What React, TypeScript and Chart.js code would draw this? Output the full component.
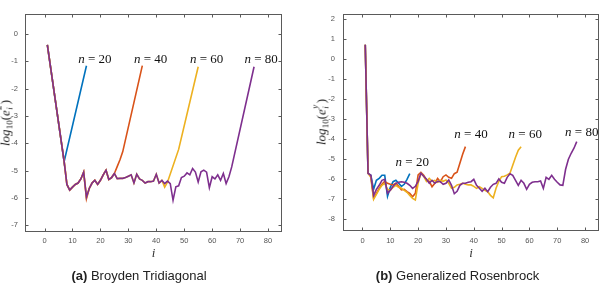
import React, { useEffect, useRef } from 'react';
import { Chart, registerables } from 'chart.js';

Chart.register(...registerables);

// ---------- data ----------
const X_TICKS = [0, 10, 20, 30, 40, 50, 60, 70, 80];
const A_Y_TICKS = [-7, -6, -5, -4, -3, -2, -1, 0];
const B_Y_TICKS = [-8, -7, -6, -5, -4, -3, -2, -1, 0, 1, 2];
const N_VALUES = [20, 40, 60, 80];

// (a) Broyden Tridiagonal  [i, log10 error]
const A_N20 = [[1, -0.4], [7, -4.67], [15, -1.16]];
const A_N40 = [[1, -0.4], [7, -4.65], [8, -5.5], [9, -5.71], [10, -5.6], [11, -5.5], [12, -5.45], [13, -5.3], [14, -5.05], [15, -6.02], [16, -5.65], [17, -5.45], [18, -5.35], [19, -5.5], [20, -5.35], [21, -5.15], [22, -4.98], [23, -5.32], [24, -5.25], [25, -5.1], [26, -4.85], [27, -4.6], [28, -4.3], [35, -1.16]];
const A_N60 = [[1, -0.4], [7, -4.65], [8, -5.5], [9, -5.71], [10, -5.6], [11, -5.5], [12, -5.45], [13, -5.3], [14, -5.05], [15, -5.96], [16, -5.65], [17, -5.45], [18, -5.35], [19, -5.5], [20, -5.35], [21, -5.15], [22, -4.98], [23, -5.32], [24, -5.25], [25, -5.1], [26, -5.29], [27, -5.28], [28, -5.28], [29, -5.25], [30, -5.2], [31, -5.15], [32, -5.45], [33, -5.13], [34, -5.3], [35, -5.35], [36, -5.45], [37, -5.4], [38, -5.4], [39, -5.38], [40, -5.13], [41, -5.45], [42, -5.35], [43, -5.6], [44, -5.42], [48, -4.22], [55, -1.2]];
const A_N80 = [[1, -0.4], [7, -4.65], [8, -5.5], [9, -5.71], [10, -5.6], [11, -5.5], [12, -5.45], [13, -5.3], [14, -5.05], [15, -5.96], [16, -5.65], [17, -5.45], [18, -5.35], [19, -5.5], [20, -5.35], [21, -5.15], [22, -4.98], [23, -5.32], [24, -5.25], [25, -5.1], [26, -5.29], [27, -5.28], [28, -5.28], [29, -5.25], [30, -5.2], [31, -5.15], [32, -5.45], [33, -5.13], [34, -5.3], [35, -5.35], [36, -5.45], [37, -5.4], [38, -5.4], [39, -5.38], [40, -5.13], [41, -5.45], [42, -5.35], [43, -5.47], [44, -5.38], [45, -5.47], [46, -6.08], [47, -5.59], [48, -5.55], [49, -5.25], [50, -5.2], [51, -5.08], [52, -5.15], [53, -4.92], [54, -5.05], [55, -5.41], [56, -5.04], [57, -4.98], [58, -5.05], [59, -5.62], [60, -5.22], [61, -5.3], [62, -5.15], [63, -5.35], [64, -5.1], [65, -5.47], [66, -5.22], [67, -4.86], [75, -1.2]];
const A_LABEL_X = [18, 38, 58, 77.5];
const A_LABEL_Y = [-0.95, -0.95, -0.95, -0.95];

// (b) Generalized Rosenbrock  [i, log10 error]
const B_N20 = [[1, 0.72], [2, -5.7], [3, -5.8], [4, -6.5], [5, -6.05], [6, -5.95], [7, -5.8], [8, -5.8], [9, -6.85], [10, -6.4], [11, -6.12], [12, -6.05], [13, -6.2], [14, -6.35], [15, -6.25], [16, -6.0], [17, -5.72]];
const B_N40 = [[1, 0.72], [2, -5.7], [3, -5.85], [4, -6.95], [5, -6.7], [6, -6.45], [7, -6.25], [8, -6.1], [9, -6.2], [10, -6.25], [11, -6.28], [12, -6.2], [13, -6.35], [14, -6.53], [15, -6.5], [16, -6.62], [17, -6.7], [18, -6.87], [19, -6.7], [20, -5.78], [21, -5.65], [22, -5.8], [23, -6.03], [24, -6.1], [25, -6.37], [26, -6.2], [27, -5.95], [28, -6.12], [29, -5.87], [30, -5.78], [31, -5.9], [32, -5.95], [33, -5.72], [34, -5.65], [35, -5.2], [36, -4.75], [37, -4.37]];
const B_N60 = [[1, 0.72], [2, -5.7], [3, -5.9], [4, -7.0], [5, -6.75], [6, -6.5], [7, -6.3], [8, -6.2], [9, -6.5], [10, -6.55], [11, -6.4], [12, -6.3], [13, -6.4], [14, -6.45], [15, -6.55], [16, -6.65], [17, -6.8], [18, -6.95], [19, -7.03], [20, -6.2], [21, -5.7], [22, -5.85], [23, -6.1], [24, -5.95], [25, -6.1], [26, -6.05], [27, -6.15], [28, -6.05], [29, -6.1], [30, -6.03], [31, -6.2], [32, -6.45], [33, -6.4], [34, -6.28], [35, -6.25], [36, -6.2], [37, -6.25], [38, -6.28], [39, -6.28], [40, -6.35], [41, -6.45], [42, -6.37], [43, -6.45], [44, -6.55], [45, -6.62], [46, -6.8], [47, -6.92], [48, -6.45], [49, -6.1], [50, -5.87], [51, -5.85], [52, -5.78], [53, -5.7], [54, -5.3], [55, -4.9], [56, -4.55], [57, -4.37]];
const B_N80 = [[1, 0.72], [2, -5.7], [3, -5.8], [4, -6.8], [5, -6.5], [6, -6.3], [7, -6.05], [8, -6.0], [9, -6.7], [10, -6.55], [11, -6.35], [12, -6.2], [13, -6.15], [14, -6.12], [15, -6.15], [16, -6.2], [17, -6.3], [18, -6.45], [19, -6.35], [20, -6.1], [21, -5.7], [22, -5.85], [23, -6.0], [24, -6.2], [25, -6.05], [26, -6.2], [27, -6.1], [28, -6.12], [29, -6.25], [30, -6.2], [31, -6.03], [32, -6.3], [33, -6.72], [34, -6.6], [35, -6.3], [36, -6.2], [37, -6.2], [38, -6.15], [39, -6.12], [40, -6.0], [41, -6.3], [42, -6.45], [43, -6.6], [44, -6.45], [45, -6.62], [46, -6.4], [47, -6.25], [48, -6.2], [49, -5.98], [50, -6.15], [51, -6.2], [52, -5.9], [53, -5.72], [54, -5.8], [55, -6.05], [56, -6.3], [57, -6.05], [58, -6.2], [59, -6.5], [60, -6.25], [61, -6.15], [62, -6.12], [63, -6.12], [64, -6.08], [65, -6.45], [66, -5.9], [67, -6.0], [68, -5.8], [69, -6.0], [70, -6.15], [71, -6.28], [72, -6.3], [73, -5.5], [74, -5.0], [75, -4.7], [76, -4.45], [77, -4.12]];
const B_LABEL_X = [17.9, 39, 58.5, 78.8];
const B_LABEL_Y = [-5.17, -3.79, -3.79, -3.67];

const COLORS = ['#0072BD', '#D95319', '#EDB120', '#7E2F8E'];

// ---------- plugin: MATLAB-like box, inward ticks, n = .. labels ----------
const axesBox = {
  id: 'axesBox',
  afterDatasetsDraw(chart: any, _args: any, opts: any) {
    const { ctx, chartArea: a } = chart;
    const xs = chart.scales.x;
    const ys = chart.scales.y;
    ctx.save();
    ctx.strokeStyle = '#5a5a5a';
    ctx.lineWidth = 1;
    const L = Math.round(a.left) + 0.5;
    const R = Math.round(a.right) - 0.5;
    const T = Math.round(a.top) + 0.5;
    const B = Math.round(a.bottom) - 0.5;
    ctx.strokeRect(L, T, R - L, B - T);
    ctx.beginPath();
    const tl = 3;
    for (const t of xs.ticks) {
      const px = Math.round(xs.getPixelForValue(t.value)) + 0.5;
      ctx.moveTo(px, B); ctx.lineTo(px, B - tl);
      ctx.moveTo(px, T); ctx.lineTo(px, T + tl);
    }
    for (const t of ys.ticks) {
      const py = Math.round(ys.getPixelForValue(t.value)) + 0.5;
      ctx.moveTo(L, py); ctx.lineTo(L + tl, py);
      ctx.moveTo(R, py); ctx.lineTo(R - tl, py);
    }
    ctx.stroke();

    const items = (opts && opts.labels) || [];
    ctx.fillStyle = '#111';
    ctx.textBaseline = 'middle';
    for (const it of items) {
      const cx = xs.getPixelForValue(it.x);
      const cy = ys.getPixelForValue(it.y);
      const f1 = 'italic 13px "Liberation Serif"';
      const f2 = '13px "Liberation Serif"';
      ctx.font = f1;
      const w1 = ctx.measureText('n').width;
      ctx.font = f2;
      const rest = ' = ' + it.n;
      const w2 = ctx.measureText(rest).width;
      const x0 = cx - (w1 + w2) / 2;
      ctx.font = f1;
      ctx.textAlign = 'left';
      ctx.fillText('n', x0, cy);
      ctx.font = f2;
      ctx.fillText(rest, x0 + w1, cy);
    }
    ctx.restore();
  },
};

type PanelProps = {
  left: number;
  width: number;
  series: number[][][];
  yMin: number;
  yMax: number;
  yTicks: number[];
  padRight: number;
  yAxisW: number;
  xAxisH: number;
  xPad: number;
  yPad: number;
  labelX: number[];
  labelY: number[];
};

function Panel(p: PanelProps) {
  const ref = useRef<HTMLCanvasElement | null>(null);
  useEffect(() => {
    if (!ref.current) return;
    const tickFont = { family: '"Liberation Sans", Arial, sans-serif', size: 7.5 };
    // draw order: n=80 on top (index 0 drawn last)
    const order = [3, 2, 1, 0];
    const chart = new Chart(ref.current, {
      type: 'line',
      data: {
        datasets: order.map((k) => ({
          data: p.series[k].map(([x, y]) => ({ x, y })),
          borderColor: COLORS[k],
          backgroundColor: COLORS[k],
          borderWidth: 1.6,
          pointRadius: 0,
          tension: 0,
          fill: false,
        })),
      },
      options: {
        responsive: false,
        animation: false,
        devicePixelRatio: 1,
        layout: { padding: { top: 14, right: p.padRight, left: 0, bottom: 0 } },
        plugins: {
          legend: { display: false },
          tooltip: { enabled: false },
          axesBox: {
            labels: N_VALUES.map((n, k) => ({ n, x: p.labelX[k], y: p.labelY[k] })),
          },
        } as any,
        scales: {
          x: {
            type: 'linear',
            bounds: 'data',
            min: -7,
            max: 85,
            afterBuildTicks: (s: any) => { s.ticks = X_TICKS.map((v) => ({ value: v })); },
            afterFit: (s: any) => { s.height = p.xAxisH; },
            grid: { display: false, drawTicks: false },
            border: { display: false },
            ticks: { padding: p.xPad, font: tickFont, color: '#555', maxRotation: 0, autoSkip: false },
          },
          y: {
            type: 'linear',
            bounds: 'data',
            min: p.yMin,
            max: p.yMax,
            afterBuildTicks: (s: any) => { s.ticks = p.yTicks.map((v) => ({ value: v })); },
            afterFit: (s: any) => { s.width = p.yAxisW; },
            grid: { display: false, drawTicks: false },
            border: { display: false },
            ticks: { padding: p.yPad, font: tickFont, color: '#555', autoSkip: false },
          },
        } as any,
      },
      plugins: [axesBox],
    } as any);
    return () => chart.destroy();
  }, []);
  return (
    <canvas
      ref={ref}
      width={p.width}
      height={292}
      style={{ position: 'absolute', left: p.left, top: 0, width: p.width, height: 292 }}
    />
  );
}

const serif = '"Liberation Serif", "Times New Roman", serif';
const sans = '"Liberation Sans", Arial, sans-serif';

function YTitle({ cx, cy, sup }: { cx: number; cy: number; sup: string }) {
  return (
    <div
      style={{
        position: 'absolute',
        left: cx,
        top: cy,
        transform: 'translate(-50%, -50%) rotate(-90deg)',
        whiteSpace: 'nowrap',
        fontFamily: serif,
        fontStyle: 'italic',
        fontSize: 13,
        lineHeight: '16px',
        color: '#222',
      }}
    >
      <span>log</span>
      <span style={{ fontStyle: 'normal', fontSize: 9, position: 'relative', top: 3 }}>10</span>
      <span style={{ fontStyle: 'normal' }}>(</span>
      <span>e</span>
      <span style={{ display: 'inline-block', position: 'relative', width: 6, height: 10 }}>
        <span style={{ position: 'absolute', left: 0.5, top: -5, fontSize: 9, lineHeight: '9px' }}>{sup}</span>
        <span style={{ position: 'absolute', left: 0.5, top: 6, fontSize: 9, lineHeight: '9px' }}>i</span>
      </span>
      <span style={{ fontStyle: 'normal' }}>)</span>
    </div>
  );
}

function Text({ cx, cy, children, style }: any) {
  return (
    <div
      style={{
        position: 'absolute',
        left: cx,
        top: cy,
        transform: 'translate(-50%, -50%)',
        whiteSpace: 'nowrap',
        ...style,
      }}
    >
      {children}
    </div>
  );
}

export default function App() {
  return (
    <div style={{ position: 'absolute', left: 0, top: 0, width: 603, height: 292, background: '#fff', overflow: 'hidden' }}>
      <Panel
        left={0}
        width={300}
        series={[A_N20, A_N40, A_N60, A_N80]}
        yMin={-7.24}
        yMax={0.73}
        yTicks={A_Y_TICKS}
        padRight={18}
        yAxisW={25}
        xAxisH={60}
        xPad={4}
        yPad={7}
        labelX={A_LABEL_X}
        labelY={A_LABEL_Y}
      />
      <Panel
        left={300}
        width={303}
        series={[B_N20, B_N40, B_N60, B_N80]}
        yMin={-8.58}
        yMax={2.25}
        yTicks={B_Y_TICKS}
        padRight={4}
        yAxisW={43}
        xAxisH={61}
        xPad={5}
        yPad={8}
        labelX={B_LABEL_X}
        labelY={B_LABEL_Y}
      />
      <YTitle cx={6} cy={123} sup="2" />
      <YTitle cx={322} cy={122} sup="y" />
      <Text cx={153.5} cy={252.5} style={{ fontFamily: serif, fontStyle: 'italic', fontSize: 13, color: '#333' }}>i</Text>
      <Text cx={471} cy={252.5} style={{ fontFamily: serif, fontStyle: 'italic', fontSize: 13, color: '#333' }}>i</Text>
      <Text cx={139} cy={275} style={{ fontFamily: sans, fontSize: 13, color: '#222' }}>
        <b>(a)</b> Broyden Tridiagonal
      </Text>
      <Text cx={457.5} cy={275} style={{ fontFamily: sans, fontSize: 13, color: '#222' }}>
        <b>(b)</b> Generalized Rosenbrock
      </Text>
    </div>
  );
}
